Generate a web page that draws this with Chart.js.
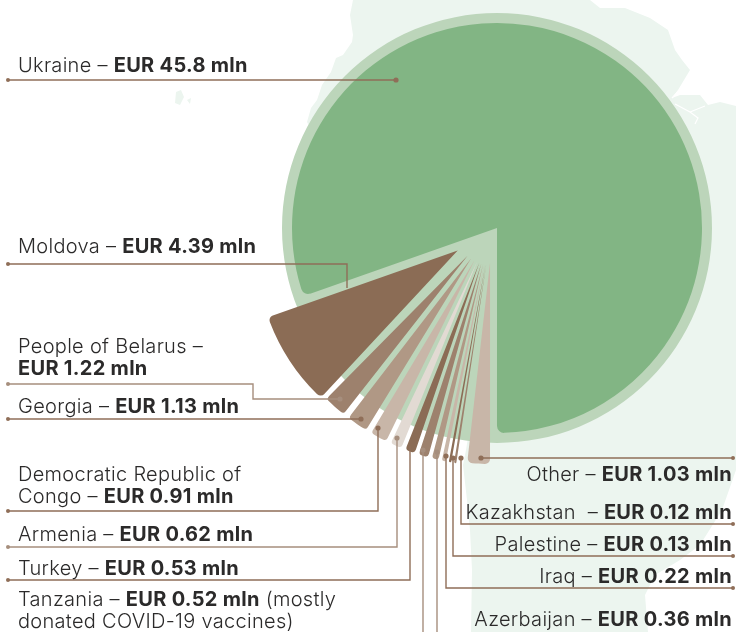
<!DOCTYPE html>
<html>
<head>
<meta charset="utf-8">
<script src="https://cdn.jsdelivr.net/npm/chart.js"></script>
<style>
  html, body { margin: 0; padding: 0; background: #fff; }
  #stage { position: relative; width: 736px; height: 632px; overflow: hidden; font-family: Inter, sans-serif; color: #2b2a2a; }
  #stage canvas, #stage svg { position: absolute; left: 0; top: 0; }
  .lab { position: absolute; font-size: 20px; letter-spacing: .3px; line-height: 22px; white-space: pre; font-weight: 300; }
  .lab b { font-weight: 700; }
  .lab.r { text-align: right; }
</style>
</head>
<body>
<div id="stage">
  <svg width="736" height="632">
    <path fill="#ecf5ef" d="M353 0 L350 15 L353 35 L352 42 L343 55 L336 58 L331 72 L322 85 L317 100 L311 108 L307 122 L400 300 L470 425 L466 450 L463 465 L467 500 L470 530 L472 570 L471 632 L648 632 L645 595 L655 575 L680 560 L700 545 L722 510 L736 470 L736 106 L720 102 L708 105 L700 95 L680 95 L672 98 L678 90 L690 70 L682 60 L675 50 L668 30 L650 18 L625 8 L600 8 L590 0 Z"/>
    <path fill="none" stroke="#fff" stroke-width="1.2" d="M672 98 L683 86 L692 92 M675 104 L690 112 L698 118 L695 124 M690 112 L705 106"/>
    <path fill="#ecf5ef" d="M176 92 L181 90 L184 97 L180 105 L175 103 Z M187 100 L191 98 L190 104 Z"/>
  </svg>
</div>
<script>
// clockwise from Ukraine, starting where its slice starts
const categories = ['Ukraine', 'Other', 'Kazakhstan', 'Palestine', 'Iraq', 'Azerbaijan', 'Tanzania', 'Turkey', 'Armenia', 'Democratic Republic of Congo', 'Georgia', 'People of Belarus', 'Moldova'];
const valuesMln = [45.8, 1.03, 0.12, 0.13, 0.22, 0.36, 0.52, 0.53, 0.62, 0.91, 1.13, 1.22, 4.39];

const green = '#82b584', ring = '#bcd5ba';
const b1 = '#8b6c55', b2 = '#9d816d', b3 = '#b09885', b4 = '#c8b6a8', b5 = '#e2dad3';
const sliceColors = [green, b4, b2, b1, b4, b3, b2, b1, b5, b4, b3, b2, b1];
const none = 'rgba(0,0,0,0)';

const total = valuesMln.reduce((a, b) => a + b, 0);
const deg = (v) => v / total * 360;
const startAngle = 180 - deg(valuesMln[0]);

// label text: [x or right edge, top, regular, bold, tail]
const labelsLeft = [
  [18, 54, 'Ukraine – ', 'EUR 45.8 mln', ''],
  [18, 235, 'Moldova – ', 'EUR 4.39 mln', ''],
  [18, 335, 'People of Belarus –\n', 'EUR 1.22 mln', ''],
  [18, 395, 'Georgia – ', 'EUR 1.13 mln', ''],
  [18, 463, 'Democratic Republic of\nCongo – ', 'EUR 0.91 mln', ''],
  [18, 523, 'Armenia – ', 'EUR 0.62 mln', ''],
  [18, 557, 'Turkey – ', 'EUR 0.53 mln', ''],
  [18, 588, 'Tanzania – ', 'EUR 0.52 mln', ' (mostly\ndonated COVID-19 vaccines)']
];
const labelsRight = [
  [4, 463, 'Other – ', 'EUR 1.03 mln'],
  [4, 501, 'Kazakhstan  – ', 'EUR 0.12 mln'],
  [4, 533, 'Palestine – ', 'EUR 0.13 mln'],
  [4, 565, 'Iraq – ', 'EUR 0.22 mln'],
  [4, 608, 'Azerbaijan – ', 'EUR 0.36 mln']
];

// leader lines, from the outer end to the slice
const leaders = [
  { c: '#8f6e58', dot: true, pts: [[8, 80], [396, 80]] },
  { c: '#8f6e58', dot: false, pts: [[8, 264], [347, 264], [347, 288]] },
  { c: '#a68e7d', dot: true, pts: [[8, 384], [253, 384], [253, 399], [340, 399]] },
  { c: '#8f6e58', dot: true, pts: [[8, 419], [361, 419]] },
  { c: '#8f6e58', dot: true, pts: [[8, 511], [378, 511], [378, 428]] },
  { c: '#a68e7d', dot: true, pts: [[8, 547], [397, 547], [397, 438]] },
  { c: '#8f6e58', dot: false, pts: [[8, 580], [410, 580], [410, 446]] },
  { c: '#a68e7d', dot: true, pts: [[423, 640], [423, 450]] },
  { c: '#a68e7d', dot: true, pts: [[437, 640], [437, 452]] },
  { c: '#8f6e58', dot: true, pts: [[733, 588], [446, 588], [446, 456]] },
  { c: '#8f6e58', dot: true, pts: [[733, 556], [453, 556], [453, 458]] },
  { c: '#8f6e58', dot: true, pts: [[733, 524], [461, 524], [461, 458]] },
  { c: '#8f6e58', dot: true, pts: [[733, 458], [481, 458]] }
];

const stage = document.getElementById('stage');

// moves the arcs out along their own mid angle, the built in offset eats thin slices
const pushPlugin = {
  id: 'push',
  afterDatasetsUpdate(chart, args, opts) {
    const area = chart.chartArea;
    const cx = (area.left + area.right) / 2, cy = (area.top + area.bottom) / 2;
    chart.getDatasetMeta(0).data.forEach((arc, i) => {
      const mid = (arc.startAngle + arc.endAngle) / 2;
      const d = Array.isArray(opts.by) ? opts.by[i] : opts.by;
      arc.x = cx + Math.cos(mid) * d;
      arc.y = cy + Math.sin(mid) * d;
    });
  }
};

const leaderPlugin = {
  id: 'leaders',
  afterDraw(chart) {
    const ctx = chart.ctx;
    ctx.save();
    leaders.forEach(l => {
      ctx.strokeStyle = l.c;
      ctx.fillStyle = l.c;
      ctx.lineWidth = 1.4;
      ctx.beginPath();
      l.pts.forEach((p, i) => i ? ctx.lineTo(p[0], p[1]) : ctx.moveTo(p[0], p[1]));
      ctx.stroke();
      const a = l.pts[0], z = l.pts[l.pts.length - 1];
      ctx.beginPath(); ctx.arc(a[0], a[1], 2, 0, Math.PI * 2); ctx.fill();
      if (l.dot) { ctx.beginPath(); ctx.arc(z[0], z[1], 2.6, 0, Math.PI * 2); ctx.fill(); }
    });
    ctx.restore();
  }
};

function layer(opts) {
  const canvas = document.createElement('canvas');
  canvas.width = 736;
  canvas.height = 632;
  stage.appendChild(canvas);
  return new Chart(canvas, {
    type: 'pie',
    data: {
      labels: opts.labels,
      datasets: [{
        data: opts.values,
        backgroundColor: opts.colors,
        borderWidth: 0,
        borderRadius: opts.corner || 0,
        clip: false
      }]
    },
    options: {
      responsive: false,
      animation: false,
      events: [],
      rotation: opts.rotation,
      circumference: opts.circumference,
      radius: opts.radius,
      layout: { padding: { left: opts.cx * 2 - 736, bottom: 632 - 228 * 2 } },
      plugins: { legend: { display: false }, tooltip: { enabled: false }, push: { by: opts.push || 0 } }
    },
    plugins: [pushPlugin].concat(opts.plugins || [])
  });
}

const corner = (r) => ({ outerStart: r, outerEnd: r, innerStart: 0, innerEnd: 0 });
const only = (test) => sliceColors.map((c, i) => test(i) ? c : none);

// pale disc, then Ukraine
layer({ values: [1], labels: ['all'], colors: [ring], rotation: 0, circumference: 360, radius: 215, cx: 497 });
layer({ values: valuesMln, labels: categories, colors: only(i => i === 0), rotation: startAngle, circumference: 360, radius: 205, cx: 497, corner: corner(7) });

// Other and Moldova keep their share of the circle
const isEnd = (i) => i === 1 || i === 12;
layer({
  values: valuesMln, labels: categories, colors: only(isEnd),
  rotation: startAngle, circumference: 360, radius: 201, cx: 492, corner: corner(5),
  push: valuesMln.map((v, i) => i === 12 ? 41 : 35)
});

// the ten small ones share the room between them, with a thin gap each
const gapMln = 0.11;
const otherDeg = deg(valuesMln[1]);
const moldovaDeg = deg(valuesMln[12]);
const fanValues = [], fanLabels = [], fanColors = [];
for (let i = 2; i < 12; i++) {
  fanValues.push(gapMln, valuesMln[i]);
  fanLabels.push('', categories[i]);
  fanColors.push(none, sliceColors[i]);
}
fanValues.push(gapMln);
fanLabels.push('');
fanColors.push(none);

layer({
  values: fanValues, labels: fanLabels, colors: fanColors,
  rotation: 180 + otherDeg + 1.5,
  circumference: 360 - deg(valuesMln[0]) - otherDeg - moldovaDeg + 0.8,
  radius: 201, cx: 492, corner: corner(3.5), push: 37,
  plugins: [leaderPlugin]
});

function addLabel(side, row) {
  const d = document.createElement('div');
  d.className = 'lab ' + (side === 'right' ? 'r' : '');
  d.style[side] = row[0] + 'px';
  d.style.top = row[1] + 'px';
  d.append(row[2]);
  const b = document.createElement('b');
  b.textContent = row[3];
  d.append(b);
  if (row[4]) d.append(row[4]);
  stage.appendChild(d);
}
labelsLeft.forEach(r => addLabel('left', r));
labelsRight.forEach(r => addLabel('right', r));
</script>
</body>
</html>
